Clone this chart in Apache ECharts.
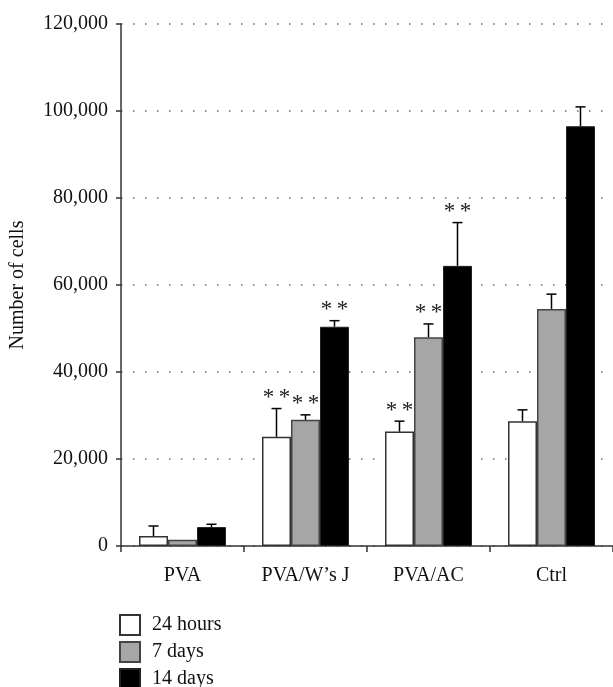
<!DOCTYPE html>
<html>
<head>
<meta charset="utf-8">
<script src="https://cdn.jsdelivr.net/npm/echarts@6/dist/echarts.min.js"></script>
<style>
html, body { margin: 0; padding: 0; background: #fff; }
#bar-chart { width: 613px; height: 687px; }
</style>
</head>
<body>
<div id="bar-chart"></div>
<script>
// values
const categories = ['PVA', 'PVA/W\u2019s J', 'PVA/AC', 'Ctrl']
const seriesNames = ['24 hours', '7 days', '14 days']
const yTicks = [0, 20000, 40000, 60000, 80000, 100000, 120000]

const h24 = [2300, 25100, 26300, 28700]
const h24Err = [2300, 6500, 2400, 2600]
const h24Sig = [false, true, true, false]

const d7 = [1450, 29000, 48000, 54500]
const d7Err = [0, 1150, 3050, 3400]
const d7Sig = [false, true, true, false]

const d14 = [4350, 50400, 64400, 96500]
const d14Err = [650, 1400, 9950, 4450]
const d14Sig = [false, true, true, false]

const FONT = 'Liberation Serif'
const BAR_W = 29

function errSeries(values, errs, sigs, offset) {
    return {
        type: 'custom',
        silent: true,
        z: 5,
        data: values.map((v, i) => [i, v, errs[i], sigs[i] ? 1 : 0]),
        renderItem: (params, api) => {
            let base = api.coord([api.value(0), api.value(1)])
            let top = api.coord([api.value(0), api.value(1) + api.value(2)])
            let x = base[0] + offset
            let children = []
            if (api.value(2) > 0) {
                children.push({
                    type: 'line',
                    shape: { x1: x, y1: base[1], x2: x, y2: top[1] },
                    style: { stroke: '#000', lineWidth: 1.5 }
                })
                children.push({
                    type: 'line',
                    shape: { x1: x - 5, y1: top[1], x2: x + 5, y2: top[1] },
                    style: { stroke: '#000', lineWidth: 1.5 }
                })
            }
            if (api.value(3)) {
                children.push({
                    type: 'text',
                    style: {
                        text: '*\u2009*',
                        x: x,
                        y: top[1] + 1,
                        align: 'center',
                        verticalAlign: 'bottom',
                        font: '23px "' + FONT + '"',
                        fill: '#222'
                    }
                })
            }
            return { type: 'group', children: children }
        }
    }
}

// one legend per item so they stack at the bottom without wrapping
function legendAt(name, top) {
    return {
        left: 119,
        top: top,
        padding: 0,
        itemWidth: 20,
        itemHeight: 20,
        icon: 'rect',
        selectedMode: false,
        textStyle: { fontFamily: FONT, fontSize: 20, color: '#111', padding: [0, 0, 0, 7] },
        data: [name]
    }
}

let charts = echarts.init(document.getElementById('bar-chart'))
let config = {
    animation: false,
    textStyle: { fontFamily: FONT },
    grid: { left: 120, right: 0, top: 24, bottom: 141 },
    legend: [
        legendAt(seriesNames[0], 614),
        legendAt(seriesNames[1], 641),
        legendAt(seriesNames[2], 668)
    ],
    xAxis: {
        type: 'category',
        data: categories,
        axisLine: { lineStyle: { color: '#333', width: 1.5 } },
        axisTick: { show: true, length: 6, lineStyle: { color: '#333', width: 1.5 } },
        axisLabel: { fontFamily: FONT, fontSize: 20, color: '#111', margin: 20 }
    },
    yAxis: {
        type: 'value',
        min: 0,
        max: 120000,
        interval: 20000,
        name: 'Number of cells',
        nameLocation: 'middle',
        nameRotate: 90,
        nameGap: 93,
        nameTextStyle: { fontFamily: FONT, fontSize: 20, color: '#111' },
        axisLine: { show: true, lineStyle: { color: '#333', width: 1.5 } },
        axisTick: { show: true, length: 5, lineStyle: { color: '#333', width: 1.5 } },
        axisLabel: {
            fontFamily: FONT, fontSize: 20, color: '#111', margin: 13,
            formatter: v => yTicks.includes(v) ? v.toLocaleString('en-US') : ''
        },
        splitLine: { lineStyle: { color: '#666', width: 1.5, type: [1.5, 10.5] } }
    },
    series: [
        {
            name: seriesNames[0], type: 'bar', data: h24, barWidth: BAR_W, barGap: '0%',
            itemStyle: { color: '#fff', borderColor: '#333', borderWidth: 1.5 }
        },
        {
            name: seriesNames[1], type: 'bar', data: d7, barWidth: BAR_W, barGap: '0%',
            itemStyle: { color: '#a6a6a6', borderColor: '#444', borderWidth: 1.5 }
        },
        {
            name: seriesNames[2], type: 'bar', data: d14, barWidth: BAR_W, barGap: '0%',
            itemStyle: { color: '#000', borderColor: '#222', borderWidth: 1 }
        },
        errSeries(h24, h24Err, h24Sig, -BAR_W),
        errSeries(d7, d7Err, d7Sig, 0),
        errSeries(d14, d14Err, d14Sig, BAR_W)
    ]
}
config && charts.setOption(config)
window.addEventListener('resize', () => charts.resize())
</script>
</body>
</html>
